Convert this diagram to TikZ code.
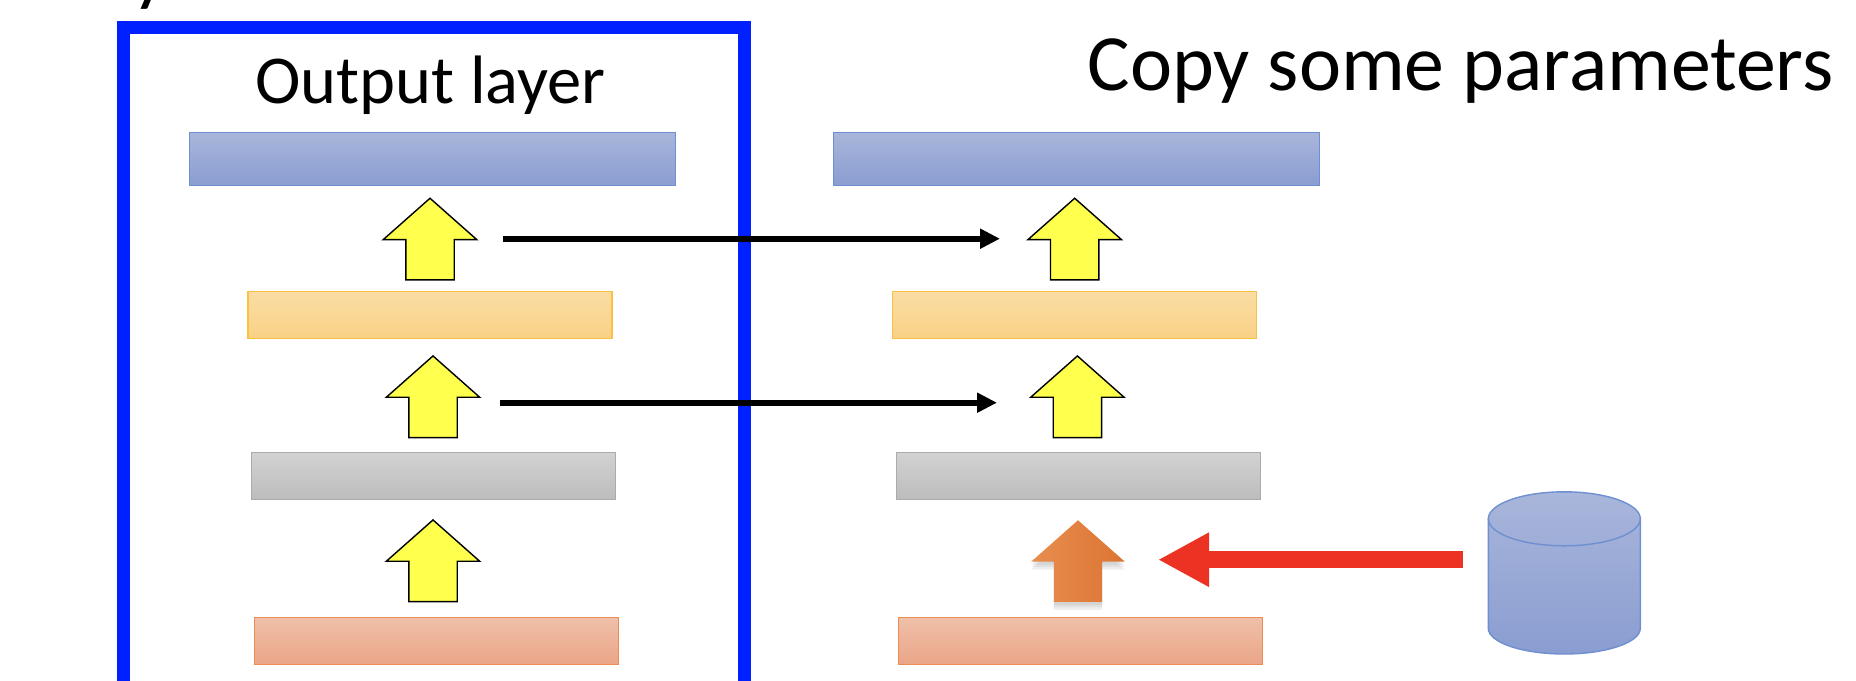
\documentclass[tikz,border=0pt]{standalone}
\usepackage{fontspec}
\setmainfont{Carlito}
\usetikzlibrary{shapes.arrows,shadows,arrows.meta}
\definecolor{framecol}{HTML}{0020FF}
\definecolor{redcol}{HTML}{EC3323}
\definecolor{arrowyellow}{HTML}{FFFF4D}
\definecolor{bluetop}{HTML}{A9B6DB}
\definecolor{bluebot}{HTML}{8A9DD1}
\definecolor{blueline}{HTML}{6E8FD0}
\definecolor{goldtop}{HTML}{FADDA4}
\definecolor{goldbot}{HTML}{F9D185}
\definecolor{goldline}{HTML}{FBC044}
\definecolor{graytop}{HTML}{D2D2D2}
\definecolor{graybot}{HTML}{BCBCBC}
\definecolor{grayline}{HTML}{ABABAB}
\definecolor{salmontop}{HTML}{EFC0A9}
\definecolor{salmonbot}{HTML}{EAA588}
\definecolor{salmonline}{HTML}{EC8D55}
\definecolor{orangeleft}{HTML}{E88E4F}
\definecolor{orangeright}{HTML}{DC7433}
\newcommand{\shaftrule}{\rule{0pt}{.47cm}}
\tikzset{
	bluebar/.style={rectangle,draw=blueline,line width=.3pt,inner sep=0,minimum width=4.86cm,minimum height=.53cm,top color=bluetop,bottom color=bluebot},
	goldbar/.style={rectangle,draw=goldline,line width=.3pt,inner sep=0,minimum width=3.64cm,minimum height=.467cm,top color=goldtop,bottom color=goldbot},
	graybar/.style={rectangle,draw=grayline,line width=.3pt,inner sep=0,minimum width=3.64cm,minimum height=.47cm,top color=graytop,bottom color=graybot},
	inputbar/.style={rectangle,draw=salmonline,line width=.3pt,inner sep=0,minimum width=3.64cm,minimum height=.47cm,top color=salmontop,bottom color=salmonbot},
	uparrow/.style={single arrow,rotate=90,anchor=tip,inner sep=0,minimum height=.817cm,single arrow head extend=.225cm,single arrow tip angle=97},
	yellowup/.style={uparrow,draw=black,fill=arrowyellow},
	softshadow/.style={drop shadow={shadow xshift=0cm,shadow yshift=-#1,opacity=.13}},
	copyline/.style={-{Triangle[length=.2cm,width=.19cm]},line width=.063cm,color=black},
}
\begin{document}
\begin{tikzpicture}[line cap=butt,line join=miter,x=1cm,y=1cm]
	\useasboundingbox (0,0) rectangle (18.56,6.8);
	\node[anchor=base,font=\fontsize{22.7}{26}\selectfont] (cut) at (1.51,6.84) {y};
	\node[draw=framecol,line width=.13cm,rectangle,inner sep=0,minimum width=6.214cm,minimum height=7.022cm] (frame) at (4.337,3.011) {};
	\node[anchor=base,font=\fontsize{19.5}{24}\selectfont] (outlabel) at (4.306,5.77) {Output layer};
	\node[anchor=base,font=\fontsize{22.7}{26}\selectfont] (copylabel) at (14.606,5.893) {Copy some parameters};
	% left net
	\node[bluebar] (blueL) at (4.322,5.212) {};
	\node[goldbar] (goldL) at (4.30,3.647) {};
	\node[graybar] (grayL) at (4.332,2.038) {};
	\node[inputbar] (inL) at (4.362,.392) {};
	\node[yellowup] (upLa) at (4.30,4.827) {\shaftrule};
	\node[yellowup] (upLb) at (4.33,3.25) {\shaftrule};
	\node[yellowup] (upLc) at (4.33,1.61) {\shaftrule};
	% right net
	\node[bluebar] (blueR) at (10.765,5.212) {};
	\node[goldbar] (goldR) at (10.747,3.647) {};
	\node[graybar] (grayR) at (10.782,2.038) {};
	\node[inputbar] (inR) at (10.808,.392) {};
	\node[yellowup] (upRa) at (10.747,4.827) {\shaftrule};
	\node[yellowup] (upRb) at (10.774,3.25) {\shaftrule};
	\node[uparrow,left color=orangeleft,right color=orangeright,softshadow=.08cm,softshadow=.055cm,softshadow=.03cm] (upRc) at (10.78,1.607) {\shaftrule};
	% data
	\shade[top color=bluetop,bottom color=bluebot,draw=blueline] (14.883,1.612) arc (180:0:.76 and .27) -- (16.403,.517) arc (0:-180:.76 and .257) -- cycle;
	\draw[blueline] (14.883,1.612) arc (180:360:.76 and .27);
	% copy arrows
	\coordinate (copyAs) at (5.026,4.413);
	\coordinate (copyAe) at (10.0,4.413);
	\coordinate (copyBs) at (5.0,2.773);
	\coordinate (copyBe) at (9.97,2.773);
	\draw[copyline] (copyAs) -- (copyAe);
	\draw[copyline] (copyBs) -- (copyBe);
	\coordinate (reds) at (14.628,1.203);
	\coordinate (rede) at (11.58,1.203);
	\draw[-{Triangle[length=.51cm,width=.507cm]},line width=.17cm,color=redcol] (reds) -- (rede);
\end{tikzpicture}
\end{document}
